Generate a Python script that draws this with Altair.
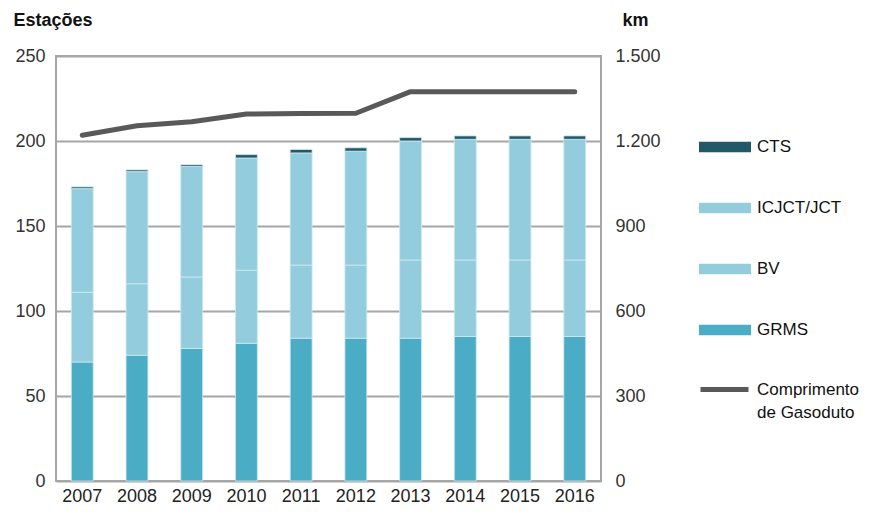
import altair as alt
import pandas as pd

years = ["2007", "2008", "2009", "2010", "2011", "2012", "2013", "2014", "2015", "2016"]
grms = [70, 74, 78, 81, 84, 84, 84, 85, 85, 85]
bv = [41, 42, 42, 43, 43, 43, 46, 45, 45, 45]
icjct = [61, 66, 65, 66, 66, 67, 70, 71, 71, 71]
cts = [1, 1, 1, 2, 2, 2, 2, 2, 2, 2]
km = [1220, 1254, 1268, 1295, 1297, 1298, 1374, 1374, 1374, 1374]

stack_names = ["GRMS", "BV", "ICJCT/JCT", "CTS"]
legend_order = ["CTS", "ICJCT/JCT", "BV", "GRMS"]
legend_colors = ["#215968", "#93CDDD", "#93CDDD", "#4BACC6"]
line_name = "Comprimento de Gasoduto"

rows = []
for i, yr in enumerate(years):
    for k, (name, vals) in enumerate(zip(stack_names, [grms, bv, icjct, cts])):
        rows.append({"Ano": yr, "Tipo": name, "Valor": vals[i], "ord": k})
bars_df = pd.DataFrame(rows)
line_df = pd.DataFrame({"Ano": years, "km": km, "Serie": [line_name] * len(years)})

FONT = "Liberation Sans"

x_enc = alt.X(
    "Ano:N", sort=years,
    scale=alt.Scale(paddingInner=0.6, paddingOuter=0.28),
    axis=alt.Axis(title=None, labelAngle=0, ticks=False, domain=False,
                  labelPadding=6, labelFontSize=18, labelColor="#222222", labelFont=FONT),
)

bars = alt.Chart(bars_df).mark_bar(stroke="#cfe8f0", strokeWidth=0.8).encode(
    x=x_enc,
    y=alt.Y(
        "Valor:Q", stack="zero",
        scale=alt.Scale(domain=[0, 250], nice=False),
        axis=alt.Axis(values=[0, 50, 100, 150, 200, 250], title="Estações",
                      titleAngle=0, titleAlign="left", titleX=-43, titleY=-31,
                      titleBaseline="alphabetic", titleFontSize=18, titleFontWeight="bold",
                      titleFont=FONT, titleColor="#111111",
                      grid=True, gridColor="#a6a6a6", gridWidth=2, ticks=False, domain=False,
                      labelPadding=11, labelFontSize=18, labelColor="#333333", labelFont=FONT),
    ),
    color=alt.Color(
        "Tipo:N",
        scale=alt.Scale(domain=legend_order, range=legend_colors),
        legend=alt.Legend(
            title=None, orient="none", legendX=643, legendY=65,
            symbolType="M-1,-0.2H1V0.2H-1Z", symbolSize=2704, symbolStrokeWidth=0,
            labelFontSize=17, labelFont=FONT, labelColor="#111111", labelOffset=6,
            rowPadding=27, labelLimit=300,
        ),
    ),
    order=alt.Order("ord:Q", sort="ascending"),
)

line = alt.Chart(line_df).mark_line(strokeWidth=5, strokeCap="round", strokeJoin="round").encode(
    x=x_enc,
    y=alt.Y(
        "km:Q",
        scale=alt.Scale(domain=[0, 1500], nice=False),
        axis=alt.Axis(orient="right", values=[0, 300, 600, 900, 1200, 1500], title="km",
                      labelExpr="replace(format(datum.value, ','), ',', '.')",
                      titleAngle=0, titleAlign="left", titleX=21, titleY=-31,
                      titleBaseline="alphabetic", titleFontSize=18, titleFontWeight="bold",
                      titleFont=FONT, titleColor="#111111",
                      grid=False, ticks=False, domain=False,
                      labelPadding=14, labelFontSize=18, labelColor="#333333", labelFont=FONT),
    ),
    stroke=alt.Stroke(
        "Serie:N",
        scale=alt.Scale(domain=[line_name], range=["#595959"]),
        legend=alt.Legend(
            title=None, orient="none", legendX=642, legendY=307,
            symbolType="M-1,0H1", symbolSize=2304, symbolStrokeWidth=5,
            labelFontSize=17, labelFont=FONT, labelColor="#111111", labelOffset=6,
            labelLimit=300,
            labelExpr="datum.label == 'Comprimento de Gasoduto' ? ['Comprimento', 'de Gasoduto'] : datum.label",
        ),
    ),
)

chart = alt.layer(bars, line).resolve_scale(y="independent").properties(
    width=545, height=425,
    padding={"left": 5, "top": 3, "right": 0, "bottom": 0},
).configure(
    style={"guide-label": {"lineHeight": 23}}
).configure_view(stroke="#a6a6a6", strokeWidth=2)

chart.save("out.html", embed_options={"renderer": "svg", "actions": False})
